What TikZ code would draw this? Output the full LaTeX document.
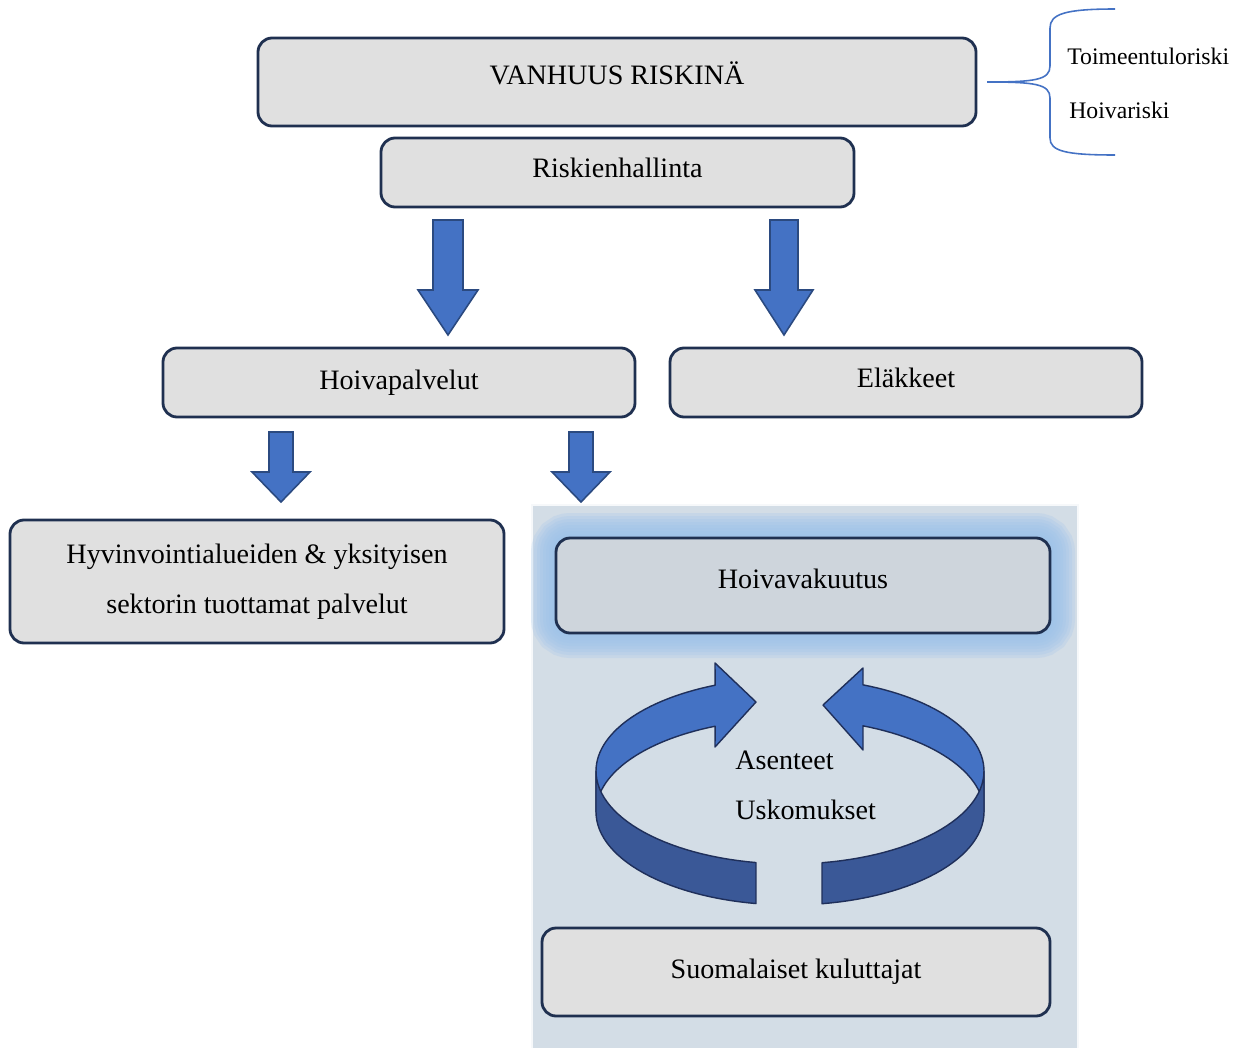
\documentclass[tikz,border=0pt]{standalone}
\usepackage{fontspec}
\setmainfont{Liberation Serif}
\usetikzlibrary{positioning,calc}

\definecolor{boxfill}{HTML}{E0E0E0}
\definecolor{boxline}{HTML}{1F3050}
\definecolor{arrowblue}{HTML}{4472C4}
\definecolor{arrowline}{HTML}{2B4A80}
\definecolor{ringdark}{HTML}{3A5897}
\definecolor{ringedge}{HTML}{1F2F5A}
\definecolor{panelblue}{HTML}{D3DDE6}
\definecolor{glowblue}{HTML}{9DC3EC}
\definecolor{insurfill}{HTML}{CED5DC}

\tikzset{
    riskbox/.style={draw=boxline, line width=1.6pt, fill=boxfill, rounded corners=8pt,
        inner sep=0pt, text depth=0.12cm, font=\fontsize{16}{19}\selectfont},
    blockarrow/.style={fill=arrowblue, draw=arrowline, line width=0.9pt, line join=miter},
    ringpart/.style={draw=ringedge, line width=0.8pt, line join=round},
    sidelabel/.style={anchor=west, inner sep=0pt, font=\fontsize{13.5}{16}\selectfont},
    cyclelabel/.style={anchor=west, inner sep=0pt, font=\fontsize{16}{19}\selectfont}
}

% block arrow pointing down: centre x, top, head start, tip, shaft half, head half
\newcommand{\downblock}[6]{%
    \filldraw[blockarrow] (#1-#5,#2) -- (#1+#5,#2) -- (#1+#5,#3) -- (#1+#6,#3)
        -- (#1,#4) -- (#1-#6,#3) -- (#1-#5,#3) -- cycle;}

\begin{document}
\begin{tikzpicture}[x=0.02cm, y=-0.02cm]
    \def\pix{0.02cm}
    % ring geometry
    \def\cx{790}
    \def\cy{771}
    \def\ra{194}
    \def\rb{93}
    \def\rh{41}

    \useasboundingbox (0,0) rectangle (1241,1048);

    % Care insurance panel
    \fill[panelblue] (532,505) rectangle (1078,1048);
    \draw[white!80!panelblue, line width=1.2pt] (532,1048) -- (532,505) -- (1078,505) -- (1078,1048);

    % Top of the hierarchy
    \node[riskbox, minimum width=718*\pix, minimum height=88*\pix, text depth=0.36cm] (vanhuus) at (617,82) {VANHUUS RISKINÄ};
    \node[riskbox, minimum width=473*\pix, minimum height=69*\pix, text depth=0.2cm] (hallinta) at (617.5,172.5) {Riskienhallinta};

    % Brace with the two risks
    \draw[arrowblue, line width=0.9pt] (987,82) .. controls (1035,82) and (1050,80) .. (1050,66)
        -- (1050,28) .. controls (1050,14) and (1065,9) .. (1115,9);
    \draw[arrowblue, line width=0.9pt] (987,82) .. controls (1035,82) and (1050,84) .. (1050,98)
        -- (1050,138) .. controls (1050,151) and (1065,155) .. (1115,155);
    \node[sidelabel] (toimeentulo) at (1067,56) {Toimeentuloriski};
    \node[sidelabel] (hoivariski) at (1069,110) {Hoivariski};

    % Down arrows from risk management
    \downblock{448}{220}{290}{335}{15}{30}
    \downblock{784}{220}{290}{335}{14}{29}

    % Second level
    \node[riskbox, minimum width=472*\pix, minimum height=69*\pix] (hoivapalv) at (399,382.5) {Hoivapalvelut};
    \node[riskbox, minimum width=472*\pix, minimum height=69*\pix, text depth=0.2cm] (elakkeet) at (906,382.5) {Eläkkeet};

    \downblock{281}{432}{472}{502}{12}{29}
    \downblock{581}{432}{472}{502}{12}{29}

    % Services produced
    \node[riskbox, minimum width=494*\pix, minimum height=123*\pix, align=center, text depth=,
        font=\fontsize{16}{28.5}\selectfont] (tuotetut) at (257,581.5)
        {Hyvinvointialueiden \& yksityisen\\sektorin tuottamat palvelut};

    % Glow round the insurance box
    \foreach \w in {50,44,...,8}
        \draw[glowblue, line width=\w*\pix, opacity=0.24, rounded corners=8pt] (556,538) rectangle (1050,633);
    \node[riskbox, fill=insurfill, minimum width=494*\pix, minimum height=95*\pix, text depth=0.26cm] (hoivavak) at (803,585.5) {Hoivavakuutus};

    % Cycle of attitudes - left half
    \filldraw[ringpart, fill=arrowblue]
        (715,663) -- plot[domain=247.3:180, samples=30, variable=\t] ({\cx+\ra*cos(\t)},{\cy+\rb*sin(\t)})
        -- plot[domain=180:247.3, samples=30, variable=\t] ({\cx+\ra*cos(\t)},{\cy+\rh+\rb*sin(\t)})
        -- (715,747) -- (756,702) -- cycle;
    \filldraw[ringpart, fill=ringdark]
        plot[domain=100.1:180, samples=30, variable=\t] ({\cx+\ra*cos(\t)},{\cy+\rb*sin(\t)})
        -- plot[domain=180:100.1, samples=30, variable=\t] ({\cx+\ra*cos(\t)},{\cy+\rh+\rb*sin(\t)})
        -- cycle;

    % Cycle of attitudes - right half
    \filldraw[ringpart, fill=arrowblue]
        (863,668) -- plot[domain=292.1:360, samples=30, variable=\t] ({\cx+\ra*cos(\t)},{\cy+\rb*sin(\t)})
        -- plot[domain=360:292.1, samples=30, variable=\t] ({\cx+\ra*cos(\t)},{\cy+\rh+\rb*sin(\t)})
        -- (863,750) -- (823,705) -- cycle;
    \filldraw[ringpart, fill=ringdark]
        plot[domain=80.5:0, samples=30, variable=\t] ({\cx+\ra*cos(\t)},{\cy+\rb*sin(\t)})
        -- plot[domain=0:80.5, samples=30, variable=\t] ({\cx+\ra*cos(\t)},{\cy+\rh+\rb*sin(\t)})
        -- cycle;

    \node[cyclelabel] (asenteet) at (735,760) {Asenteet};
    \node[cyclelabel] (uskomukset) at (735,810) {Uskomukset};

    % Consumers
    \node[riskbox, minimum width=508*\pix, minimum height=88*\pix] (kuluttajat) at (796,972) {Suomalaiset kuluttajat};
\end{tikzpicture}
\end{document}
